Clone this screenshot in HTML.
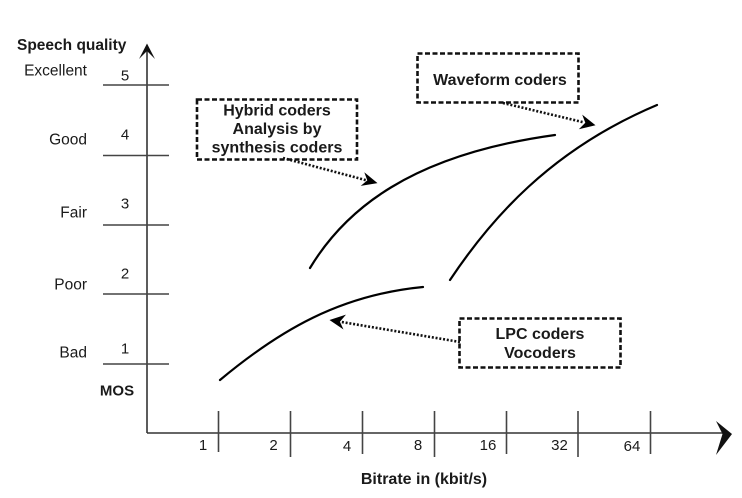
<!DOCTYPE html>
<html><head><meta charset="utf-8"><style>
html,body{margin:0;padding:0;background:#fff;}
svg{display:block;}
text{font-family:"Liberation Sans",Arial,sans-serif;fill:#1a1a1a;}
.b{font-weight:bold;}
</style></head><body>
<svg width="742" height="498" viewBox="0 0 742 498" xmlns="http://www.w3.org/2000/svg">
<!-- Y axis -->
<line x1="147" y1="48" x2="147" y2="433" stroke="#333" stroke-width="1.6"/>
<path d="M139,59 L147,43.5 L155,59 L147,51 Z" fill="#111"/>
<!-- X axis -->
<line x1="147" y1="433" x2="726" y2="433" stroke="#333" stroke-width="1.6"/>
<path d="M716,421 L732,434 L716,455 L722.5,434 Z" fill="#111"/>
<!-- MOS lines -->
<g stroke="#444" stroke-width="1.6">
<line x1="103" y1="85" x2="169" y2="85"/>
<line x1="103" y1="155.5" x2="169" y2="155.5"/>
<line x1="103" y1="225" x2="169" y2="225"/>
<line x1="103" y1="294" x2="169" y2="294"/>
<line x1="103" y1="364" x2="169" y2="364"/>
</g>
<!-- X ticks -->
<g stroke="#444" stroke-width="1.6">
<line x1="218.5" y1="411" x2="218.5" y2="452"/>
<line x1="290.5" y1="411" x2="290.5" y2="457"/>
<line x1="362.5" y1="411" x2="362.5" y2="454"/>
<line x1="434.5" y1="411" x2="434.5" y2="457"/>
<line x1="506.5" y1="411" x2="506.5" y2="454"/>
<line x1="578" y1="411" x2="578" y2="457"/>
<line x1="650.5" y1="411" x2="650.5" y2="454"/>
</g>
<!-- Y labels -->
<text x="17" y="50" class="b" font-size="15.5">Speech quality</text>
<g font-size="15.5" text-anchor="end">
<text x="87" y="75.5">Excellent</text>
<text x="87" y="144.5">Good</text>
<text x="87" y="217.5">Fair</text>
<text x="87" y="289.5">Poor</text>
<text x="87" y="357.5">Bad</text>
</g>
<g font-size="15" text-anchor="middle">
<text x="125" y="80.5">5</text>
<text x="125" y="139.5">4</text>
<text x="125" y="208.5">3</text>
<text x="125" y="278.5">2</text>
<text x="125" y="353.5">1</text>
</g>
<text x="117" y="395.5" class="b" font-size="15" text-anchor="middle">MOS</text>
<!-- X labels -->
<g font-size="15" text-anchor="middle">
<text x="203" y="450">1</text>
<text x="273.5" y="450">2</text>
<text x="347" y="451">4</text>
<text x="418" y="450">8</text>
<text x="488" y="450">16</text>
<text x="559.5" y="450">32</text>
<text x="632" y="451">64</text>
</g>
<text x="424" y="484" class="b" font-size="16" text-anchor="middle">Bitrate in (kbit/s)</text>
<!-- Curves -->
<g fill="none" stroke="#000" stroke-width="2.2" stroke-linecap="round">
<path d="M310,268 C345,210 410,155 555,135"/>
<path d="M450,280 C490,220 550,150 657,105"/>
<path d="M220,380 C280,330 340,295 423,287"/>
</g>
<!-- Boxes -->
<g fill="none" stroke="#111" stroke-width="2.6" stroke-dasharray="5 2.5">
<rect x="197" y="99.5" width="160" height="60"/>
<rect x="417.5" y="53.5" width="161" height="49"/>
<rect x="459.5" y="318.5" width="161" height="49"/>
</g>
<g font-size="16" text-anchor="middle">
<text x="277" y="115.5" class="b">Hybrid coders</text>
<text x="277" y="134" class="b">Analysis by</text>
<text x="277" y="152.5" class="b">synthesis coders</text>
<text x="500" y="85" class="b">Waveform coders</text>
<text x="540" y="339" class="b">LPC coders</text>
<text x="540" y="358" class="b">Vocoders</text>
</g>
<!-- Dotted arrows -->
<g fill="none" stroke="#111" stroke-width="2.6" stroke-dasharray="2 1.8">
<path d="M283,158 L366,180.2"/>
<path d="M503,103 L584,122.4"/>
<path d="M460,342 L341,321.9"/>
</g>
<path d="M377.5,183.1 L360.7,185.9 L367.3,180.4 L364.3,172.3 Z" fill="#000"/>
<path d="M595.5,125.2 L578.8,129.3 L585.3,122.8 L582.2,114.6 Z" fill="#000"/>
<path d="M329.5,320 L346,314.6 L339.9,321.7 L343.5,329.5 Z" fill="#000"/>
</svg>
</body></html>
